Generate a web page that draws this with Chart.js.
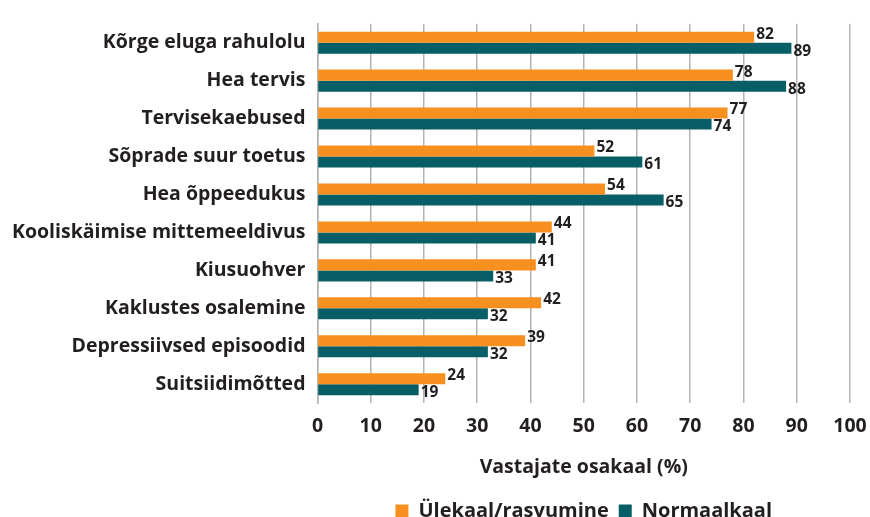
<!DOCTYPE html>
<html>
<head>
<meta charset="utf-8">
<script src="https://cdn.jsdelivr.net/npm/chart.js@4"></script>
<style>
  html, body { margin: 0; padding: 0; background: #fff; }
  #wrap { width: 870px; height: 517px; position: relative; }
</style>
</head>
<body>
<div id="wrap"><canvas id="chart"></canvas></div>
<script>
/* ----- data ----- */
const categories = [
    'Kõrge eluga rahulolu',
    'Hea tervis',
    'Tervisekaebused',
    'Sõprade suur toetus',
    'Hea õppeedukus',
    'Kooliskäimise mittemeeldivus',
    'Kiusuohver',
    'Kaklustes osalemine',
    'Depressiivsed episoodid',
    'Suitsiidimõtted'
];
const overweight = [82, 78, 77, 52, 54, 44, 41, 42, 39, 24];
const normal = [89, 88, 74, 61, 65, 41, 33, 32, 32, 19];
const seriesNames = ['Ülekaal/rasvumine', 'Normaalkaal'];
const xTicks = [0, 10, 20, 30, 40, 50, 60, 70, 80, 90, 100];

const FONT = 'Open Sans';
const TEXT = '#231f20';

/* ----- value labels at bar ends ----- */
const valueLabels = {
    id: 'valueLabels',
    afterDatasetsDraw(chart) {
        const { ctx } = chart;
        ctx.save();
        ctx.font = `bold 15.5px "${FONT}"`;
        ctx.fillStyle = TEXT;
        ctx.textBaseline = 'middle';
        ctx.textAlign = 'left';
        chart.data.datasets.forEach((ds, di) => {
            chart.getDatasetMeta(di).data.forEach((bar, i) => {
                const dy = di === 0 ? -3 : 3;
                ctx.fillText(ds.data[i], bar.x + 2, bar.y + dy);
            });
        });
        ctx.restore();
    }
};

new Chart(document.getElementById('chart'), {
    type: 'bar',
    data: {
        labels: categories,
        datasets: [
            {
                label: seriesNames[0],
                data: overweight,
                backgroundColor: '#f7901e',
                barPercentage: 1,
                categoryPercentage: 0.58
            },
            {
                label: seriesNames[1],
                data: normal,
                backgroundColor: '#075e66',
                barPercentage: 1,
                categoryPercentage: 0.58
            }
        ]
    },
    options: {
        indexAxis: 'y',
        responsive: true,
        maintainAspectRatio: false,
        animation: false,
        layout: { padding: { top: 19, right: 0, left: 0, bottom: -14 } },
        plugins: {
            legend: {
                position: 'bottom',
                fullSize: false,
                labels: {
                    color: TEXT,
                    font: { family: FONT, size: 20, weight: 'bold' },
                    boxWidth: 13,
                    boxHeight: 13,
                    padding: 10
                }
            },
            tooltip: { enabled: false }
        },
        scales: {
            x: {
                min: 0,
                max: 100,
                afterBuildTicks: (axis) => { axis.ticks = xTicks.map(v => ({ value: v })); },
                afterFit: (axis) => { axis.paddingRight = 20; },
                grid: { color: '#b3b3b3', lineWidth: 1.5, drawTicks: false },
                border: { display: false },
                ticks: {
                    color: TEXT,
                    padding: 12,
                    font: { family: FONT, size: 19.5, weight: 'bold' }
                },
                title: {
                    display: true,
                    text: 'Vastajate osakaal (%)',
                    color: TEXT,
                    padding: { top: 5, bottom: 12 },
                    font: { family: FONT, size: 19.5, weight: 'bold' }
                }
            },
            y: {
                grid: { display: false, drawTicks: false },
                border: { display: true, color: '#b3b3b3', width: 1.5 },
                ticks: {
                    color: TEXT,
                    padding: 12,
                    font: { family: FONT, size: 19.5, weight: 'bold' }
                }
            }
        }
    },
    plugins: [valueLabels]
});
</script>
</body>
</html>
